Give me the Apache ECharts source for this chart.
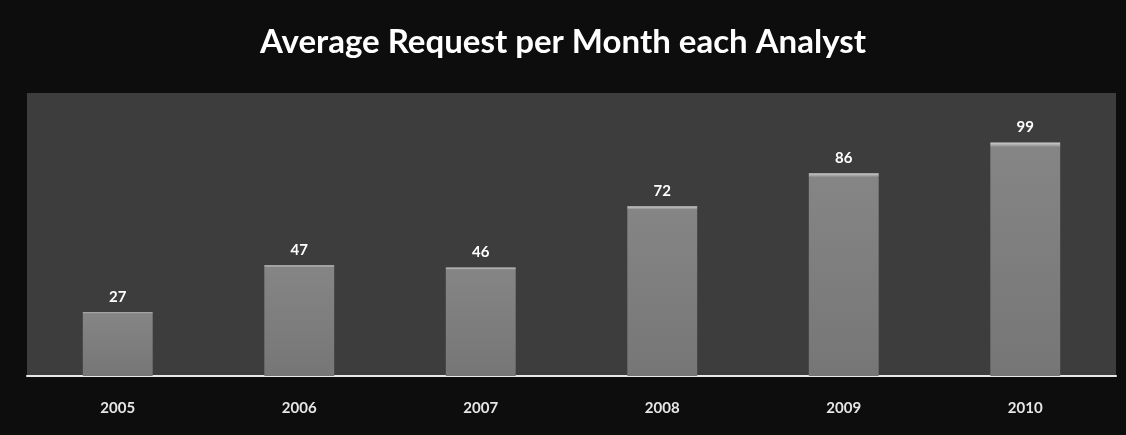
<!DOCTYPE html>
<html><head><meta charset="utf-8">
<script src="https://cdn.jsdelivr.net/npm/echarts@6/dist/echarts.min.js"></script>
<style>html,body{margin:0;padding:0;background:#0d0d0d;}#c{width:1126px;height:435px;}</style>
</head><body><div id="c"></div>
<script>
const categories = ['2005','2006','2007','2008','2009','2010'];
const values = [27, 47, 46, 72, 86, 99];
const titleText = 'Average Request per Month each Analyst';

const chart = echarts.init(document.getElementById('c'));
chart.setOption({
  backgroundColor: '#0d0d0d',
  animation: false,
  title: {
    text: titleText, left: 'center', top: 21,
    textStyle: { color: '#ffffff', fontFamily: 'Lato', fontWeight: 'bold', fontSize: 33 }
  },
  grid: { left: 27, right: 10, top: 93, bottom: 59, show: true, backgroundColor: '#3d3d3d', borderWidth: 0 },
  xAxis: {
    type: 'category', data: categories,
    axisLine: { lineStyle: { color: '#e8e8e8', width: 2 } },
    axisTick: { show: false },
    axisLabel: { color: '#e6e6e6', fontFamily: 'Lato', fontWeight: 'bold', fontSize: 15, margin: 25 }
  },
  yAxis: { type: 'value', min: 0, max: 120, show: false, splitLine: { show: false } },
  series: [{
    type: 'bar', data: values, barWidth: '38.5%',
    itemStyle: {
      color: new echarts.graphic.LinearGradient(0, 0, 0, 1, [
        { offset: 0, color: '#d0d0d0' },
        { offset: 0.02, color: '#858585' },
        { offset: 1, color: '#767676' }
      ])
    },
    label: { show: true, position: 'top', distance: 8, color: '#ffffff', fontFamily: 'Lato', fontWeight: 'bold', fontSize: 15 }
  }]
});
</script></body></html>
